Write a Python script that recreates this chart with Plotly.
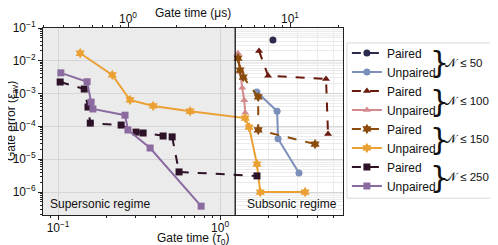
import plotly.graph_objects as go
import math

# ---------------- data (gate time in tau0, gate error) ----------------
p50_t = [2.12]
p50_e = [0.043]
u50_t = [1.69, 2.25, 2.28, 3.07]
u50_e = [1.12e-3, 2.9e-4, 4.2e-5, 3.8e-6]

p100_t = [1.74, 1.98, 4.51, 4.64]
p100_e = [2.0e-2, 3.5e-3, 2.8e-3, 5.9e-5]
u100_t = [1.29, 1.33, 1.37, 1.41, 1.43]
u100_e = [1.7e-2, 4.6e-3, 1.5e-3, 6.3e-4, 2.6e-4]

p150_t = [1.29, 1.33, 1.39, 1.72, 1.72, 3.86]
p150_e = [1.2e-2, 5.2e-3, 3.2e-3, 7.9e-4, 7.8e-5, 2.9e-5]
u150_t = [0.137, 0.216, 0.278, 0.386, 0.653, 1.43, 1.51, 1.69, 1.77, 3.35]
u150_e = [1.7e-2, 3.7e-3, 6.4e-4, 4.2e-4, 2.9e-4, 1.8e-4, 9.5e-5, 7.1e-6, 1.0e-6, 1.0e-6]

p250_t = [0.103, 0.145, 0.153, 0.158, 0.245, 0.303, 0.335, 0.445, 0.506, 0.558, 1.69]
p250_e = [2.26e-3, 1.38e-3, 3.9e-4, 1.26e-4, 1.1e-4, 6.7e-5, 6.3e-5, 5.1e-5, 4.8e-5, 4.1e-6, 3.1e-6]
u250_t = [0.104, 0.151, 0.160, 0.164, 0.259, 0.270, 0.370, 0.764]
u250_e = [4.3e-3, 2.3e-3, 5.5e-4, 3.4e-4, 2.2e-4, 7.8e-5, 2.2e-5, 3.7e-7]

group_labels = ["50", "100", "150", "250"]
tau0_us = 3.7          # microseconds per tau0
regime_boundary = 1.24  # tau0

x_ticks = [0.1, 1]
x_ticktext = ["10<sup>−1</sup>", "10<sup>0</sup>"]
y_ticks = [1e-1, 1e-2, 1e-3, 1e-4, 1e-5, 1e-6]
y_ticktext = ["10<sup>−1</sup>", "10<sup>−2</sup>", "10<sup>−3</sup>",
              "10<sup>−4</sup>", "10<sup>−5</sup>", "10<sup>−6</sup>"]
top_ticks = [1, 10]
top_ticktext = ["10<sup>0</sup>", "10<sup>1</sup>"]


def minor_vals(lo, hi):
    return [k * 10.0 ** n for n in range(lo, hi) for k in range(2, 10)]


series = [
    ("Paired", p50_t, p50_e, "#2a2b4d", "circle", "dash", "50"),
    ("Unpaired", u50_t, u50_e, "#7b8fba", "circle", "solid", "50"),
    ("Paired", p100_t, p100_e, "#6a1a0c", "triangle-up", "dash", "100"),
    ("Unpaired", u100_t, u100_e, "#d38a8c", "triangle-up", "solid", "100"),
    ("Paired", p150_t, p150_e, "#8a4b0b", "hexagram", "dash", "150"),
    ("Unpaired", u150_t, u150_e, "#eaa032", "hexagram", "solid", "150"),
    ("Paired", p250_t, p250_e, "#2e1227", "square", "dash", "250"),
    ("Unpaired", u250_t, u250_e, "#8b6aa0", "square", "solid", "250"),
]

FONT = "Liberation Sans, Arial, sans-serif"

fig = go.Figure()
for name, t, e, col, sym, dash, grp in series:
    fig.add_trace(go.Scatter(
        x=t, y=e, name=name, legendgroup=grp,
        mode="lines+markers",
        line=dict(color=col, width=2, dash=dash),
        marker=dict(color=col, symbol=sym, size=7 if sym != "hexagram" else 8,
                    line=dict(width=0)),
    ))

xr = [math.log10(0.0807), math.log10(5.74)]
fig.add_trace(go.Scatter(x=[1], y=[1e-3], xaxis="x2", mode="markers",
                         marker=dict(opacity=0), showlegend=False, hoverinfo="skip"))

axis_common = dict(type="log", showline=True, linecolor="#222", linewidth=1,
                   ticks="outside", ticklen=4, tickcolor="#222", automargin=False,
                   tickfont=dict(size=12, color="#111", family=FONT),
                   zeroline=False)

fig.update_layout(
    width=490, height=237,
    margin=dict(l=35, r=155, t=20, b=30),
    paper_bgcolor="white", plot_bgcolor="white",
    font=dict(family=FONT, size=12, color="#111"),
    xaxis=dict(**axis_common, range=xr, tickvals=x_ticks, ticktext=x_ticktext,
               ticklabelstandoff=-2,
               showgrid=True, gridcolor="#d6d6d6", gridwidth=1,
               minor=dict(tickvals=minor_vals(-2, 1), ticks="outside", ticklen=2,
                          tickcolor="#222", showgrid=True, gridcolor="#ebebeb", gridwidth=0.7)),
    xaxis2=dict(**axis_common, overlaying="x", side="top", ticklabelstandoff=-5,
                range=[xr[0] + math.log10(tau0_us), xr[1] + math.log10(tau0_us)],
                tickvals=top_ticks, ticktext=top_ticktext, showgrid=False,
                minor=dict(tickvals=minor_vals(-1, 2), ticks="outside", ticklen=2,
                           tickcolor="#222", showgrid=False)),
    yaxis=dict(**axis_common, mirror=True, range=[-6.70, -1], tickvals=y_ticks,
               ticktext=y_ticktext,
               showgrid=True, gridcolor="#d6d6d6", gridwidth=1,
               minor=dict(tickvals=minor_vals(-7, -1), ticks="outside", ticklen=2,
                          tickcolor="#222", showgrid=True, gridcolor="#ebebeb", gridwidth=0.7)),
    legend=dict(x=1.013, y=0.944, xanchor="left", yanchor="top",
                bgcolor="rgba(0,0,0,0)", borderwidth=0,
                font=dict(size=12, family=FONT), tracegroupgap=0,
                traceorder="grouped", itemwidth=30),
    showlegend=True,
)

# axis titles
fig.add_annotation(text="Gate time (<i>τ</i><sub>0</sub>)", xref="paper", yref="paper",
                   x=0.5, y=-0.131, xanchor="center", yanchor="middle", showarrow=False,
                   font=dict(size=12, family=FONT))
fig.add_annotation(text="Gate time (μs)", xref="paper", yref="paper",
                   x=0.5, y=1.078, xanchor="center", yanchor="middle", showarrow=False,
                   font=dict(size=12, family=FONT))
fig.add_annotation(text="Gate error (<i>ε</i><sub>av</sub>)", xref="paper", yref="paper",
                   x=-0.105, y=0.5, xanchor="center", yanchor="middle", showarrow=False,
                   textangle=-90, font=dict(size=12, family=FONT))

# supersonic shading and boundary
fig.add_shape(type="rect", xref="x", yref="paper", x0=0.0807, x1=regime_boundary,
              y0=0, y1=1, fillcolor="#ebebeb", line=dict(width=0), layer="below")
fig.add_shape(type="line", xref="x", yref="paper", x0=regime_boundary, x1=regime_boundary,
              y0=0, y1=1, line=dict(color="black", width=1.2))
# legend box
fig.add_shape(type="rect", xref="paper", yref="paper", x0=1.013, x1=1.51, y0=0.09, y1=0.92,
              fillcolor="white", line=dict(color="#d9d9d9", width=1), layer="above")

fig.add_annotation(text="Supersonic regime", xref="paper", yref="paper", x=0.015, y=0.01,
                   xanchor="left", yanchor="bottom", showarrow=False,
                   font=dict(size=12, family=FONT))
fig.add_annotation(text="Subsonic regime", xref="paper", yref="paper", x=0.985, y=0.01,
                   xanchor="right", yanchor="bottom", showarrow=False,
                   font=dict(size=12, family=FONT))

# braces + group labels
for i, g in enumerate(group_labels):
    yc = 0.813 - i * 0.2035
    fig.add_annotation(text="}", xref="paper", yref="paper", x=1.322, y=yc,
                       xanchor="center", yanchor="middle", showarrow=False,
                       font=dict(size=30, family="DejaVu Sans"))
    fig.add_annotation(text="𝒩 ≤ " + g, xref="paper", yref="paper", x=1.333, y=yc,
                       xanchor="left", yanchor="middle", showarrow=False,
                       font=dict(size=11.5, family=FONT))

fig.write_html("out.html")
